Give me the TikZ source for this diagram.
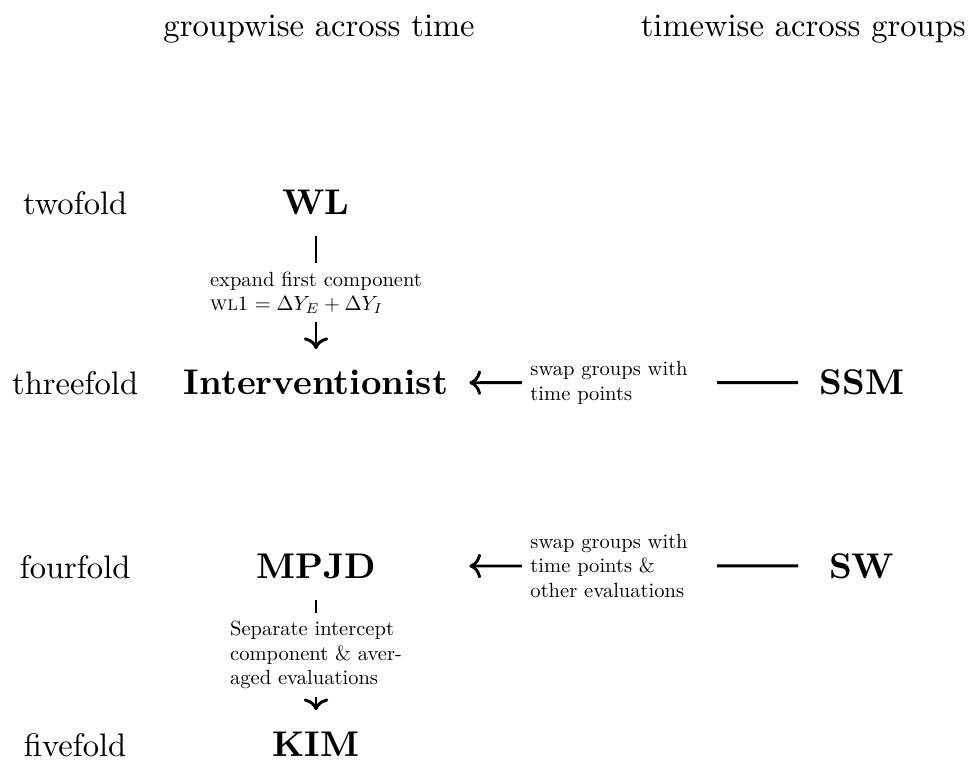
\documentclass[tikz,border=0pt]{standalone}
\usepackage{tikz}
\usetikzlibrary{arrows.meta}

\begin{document}
\begin{tikzpicture}[
        rowlbl/.style={anchor=base},
        method/.style={anchor=base, font=\fontsize{10.95}{13}\selectfont\bfseries},
        cd/.style={line width=0.9pt, shorten <=3pt, shorten >=3pt, -{Computer Modern Rightarrow}},
        lbl/.style={fill=white, scale=0.63, transform shape, inner sep=4pt, align=left}
    ]
            \useasboundingbox (0,0) rectangle (10.49,8.237);

            % Headers
            \node[rowlbl] (hgroup) at (3.44,7.84) {groupwise across time};
            \node[rowlbl] (htime) at (8.66,7.84) {timewise across groups};

            % Row labels
            \node[rowlbl] (two) at (0.81,5.92) {twofold};
            \node[rowlbl] (three) at (0.81,3.98) {threefold};
            \node[rowlbl] (four) at (0.81,2.005) {fourfold};
            \node[rowlbl] (five) at (0.81,0.086) {fivefold};

            % Methods
            \node[method] (WL) at (3.407,5.92) {WL};
            \node[method] (Interventionist) at (3.407,3.98) {Interventionist};
            \node[method] (MPJD) at (3.407,2.005) {MPJD};
            \node[method] (KIM) at (3.407,0.086) {KIM};
            \node[method] (SSM) at (9.29,3.98) {SSM};
            \node[method] (SW) at (9.29,2.005) {SW};

            % Arrows
            \draw[cd] (WL) -- node[lbl] {expand first component\\ \textsc{wl}1 $= \Delta Y_E + \Delta Y_I$} (Interventionist);
            \draw[cd] (SSM.west) -- node[lbl, text width=87pt, pos=0.54] {swap groups with\\ time points} (Interventionist.east);
            \draw[cd] (SW.west -| SSM.west) -- node[lbl, text width=87pt, pos=0.54] {swap groups with\\ time points \&\\ other evaluations} (MPJD.east -| Interventionist.east);
            \draw[cd] (MPJD) -- node[lbl] {Separate intercept\\ component \& aver-\\ aged evaluations} (KIM);
        \end{tikzpicture}
\end{document}
